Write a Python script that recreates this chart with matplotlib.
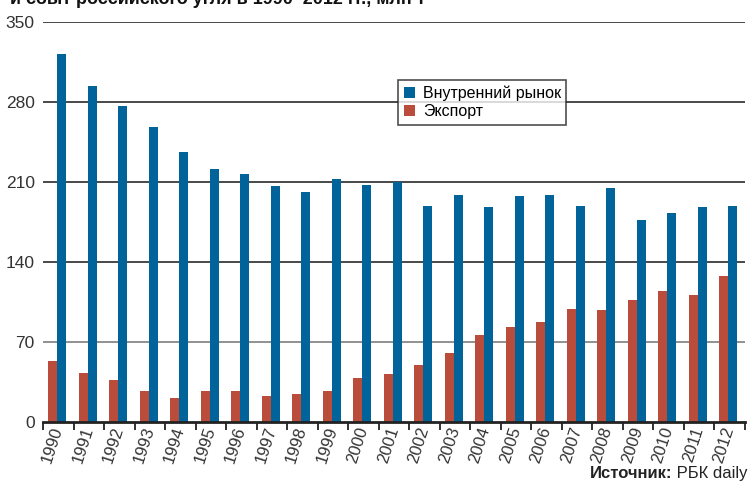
import numpy as np
import matplotlib.pyplot as plt
from matplotlib.patches import Patch

# Data (млн т)
years = [str(y) for y in range(1990, 2013)]
domestic = [322, 294, 276.5, 258, 236, 221, 217, 206.5, 201, 212.5, 207, 210,
            189, 198.5, 188, 198, 198.5, 189, 205, 177, 183, 188, 189]
export = [53, 43, 37, 27, 21, 27, 27, 23, 24.5, 27, 38.5, 42,
          50, 60, 76, 83, 87.5, 99, 98, 107, 114.5, 111, 128]
yticks = [0, 70, 140, 210, 280, 350]

blue = '#00649b'
red = '#b94c3a'
plt.rcParams['font.family'] = ['Liberation Sans Narrow', 'Liberation Sans', 'DejaVu Sans']

fig = plt.figure(figsize=(7.51, 4.88), dpi=100)
ax = fig.add_axes([43 / 751, 1 - 422 / 488, 702 / 751, 400 / 488])

x = np.arange(len(years))
w = 0.295
ax.bar(x - 0.336, export, width=w, align='edge', color=red, zorder=3)
ax.bar(x - 0.041, domestic, width=w, align='edge', color=blue, zorder=3)

# horizontal grid lines
for v in yticks[1:]:
    ax.axhline(v, color='#888888' if v == 70 else '#3a3a3a', lw=1.3, zorder=1)

ax.set_xlim(-0.5, len(years) - 0.5)
ax.set_ylim(0, 350)

for s in ['top', 'right', 'left']:
    ax.spines[s].set_visible(False)
ax.spines['bottom'].set_linewidth(2)
ax.spines['bottom'].set_color('#222222')
ax.spines['bottom'].set_zorder(4)

ax.set_yticks(yticks)
ax.set_yticklabels([str(v) for v in yticks], fontsize=12.5, color='#333333')
ax.tick_params(axis='y', length=0, pad=6)

# ticks at category borders, labels at centres
ax.set_xticks(np.arange(len(years) + 1) - 0.5, minor=True)
ax.set_xticks(x)
ax.set_xticklabels(years, rotation=72, fontsize=12, color='#333333',
                   ha='right', va='center', rotation_mode='anchor')
ax.tick_params(axis='x', which='major', length=0, pad=4)
ax.tick_params(axis='x', which='minor', length=6, width=1.3, color='#222222')

handles = [Patch(facecolor=blue, label='Внутренний рынок'),
           Patch(facecolor=red, label='Экспорт')]
leg = ax.legend(handles=handles, loc='upper left', bbox_to_anchor=(355 / 702, 1 - 58 / 400),
                fontsize=11.5, frameon=True, fancybox=False, edgecolor='#222222',
                handlelength=0.7, handleheight=0.7, handletextpad=0.5,
                labelspacing=0.2, borderpad=0.35, borderaxespad=0)
leg.get_frame().set_linewidth(1.2)
leg.set_zorder(5)

# partly cut-off title line at the top edge, as in the source image
fig.text(10 / 751, 1 - 4 / 488, 'и сбыт российского угля в 1990–2012 гг., млн т',
         fontsize=13, fontweight='bold', ha='left', va='baseline', color='#111111')

# source note: bold label followed by plain text, right aligned
src = fig.text(748 / 751, 1 - 478 / 488, ' РБК daily', fontsize=12,
               ha='right', va='baseline', color='#222222')
fig.canvas.draw()
bb = src.get_window_extent()
fig.text(bb.x0 / fig.bbox.width, 1 - 478 / 488, 'Источник:', fontsize=12,
         fontweight='bold', ha='right', va='baseline', color='#222222')

fig.savefig('out.png', dpi=100)
